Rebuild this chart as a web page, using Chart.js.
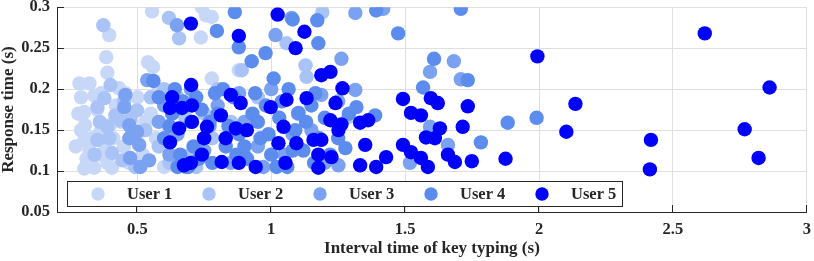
<!DOCTYPE html>
<html>
<head>
<meta charset="utf-8">
<script src="https://cdn.jsdelivr.net/npm/chart.js@4/dist/chart.umd.min.js"></script>
<style>
  html, body { margin: 0; padding: 0; background: #fff; }
  canvas { display: block; }
</style>
</head>
<body>
<canvas id="myChart" width="814" height="261"></canvas>
<script>
// series names and colours
var userNames = ['User 1', 'User 2', 'User 3', 'User 4', 'User 5'];
var userColors = ['#c6d7f7', '#a9c3f6', '#7ba2f1', '#5b8cee', '#0000ff'];

// [interval time (s), response time (s)]
var user1Points = [
  [0.395,0.266],[0.384,0.239],[0.388,0.220],[0.555,0.295],[0.741,0.300],[0.737,0.263],
  [0.756,0.290],[0.778,0.288],[0.540,0.233],[0.559,0.227],[0.879,0.223],[0.778,0.213],
  [0.284,0.207],[0.321,0.207],[0.290,0.190],[0.340,0.192],[0.302,0.172],[0.305,0.156],
  [0.302,0.138],[0.321,0.125],[0.302,0.103],[0.339,0.104],[0.388,0.110],[0.405,0.104],
  [0.432,0.201],[0.398,0.156],[0.362,0.148],[0.380,0.132],[0.280,0.170],[0.290,0.150],
  [0.310,0.115],[0.350,0.175],[0.360,0.120],[0.420,0.180],[0.440,0.160],[0.450,0.130],
  [0.470,0.110],[0.500,0.190],[0.500,0.145],[0.520,0.120],[0.550,0.170],[0.580,0.200],
  [0.600,0.105],[0.620,0.150],[0.480,0.170],[0.410,0.140],[0.330,0.140],[0.270,0.130],
  [0.365,0.195],[0.455,0.195],[0.570,0.140],[0.530,0.160]
];
var user2Points = [
  [0.373,0.278],[0.618,0.287],[0.656,0.262],[1.191,0.294],[1.057,0.256],[1.128,0.229],
  [1.132,0.215],[1.288,0.166],[0.890,0.223],[0.377,0.189],[0.351,0.178],[0.418,0.168],
  [0.388,0.154],[0.351,0.138],[0.395,0.140],[0.436,0.162],[0.473,0.162],[0.499,0.174],
  [0.481,0.148],[0.406,0.122],[0.444,0.113],[0.492,0.105],[0.550,0.190],[0.600,0.200],
  [0.650,0.190],[0.700,0.120],[0.750,0.170],[0.800,0.200],[0.850,0.160],[0.900,0.120],
  [0.580,0.130],[0.620,0.110],[0.530,0.150],[0.450,0.185],[0.400,0.205],[0.360,0.160],
  [0.340,0.120],[0.720,0.105],[0.950,0.190],[0.680,0.165],[0.780,0.140]
];
var user3Points = [
  [0.648,0.278],[1.016,0.266],[1.262,0.237],[1.314,0.293],[1.418,0.298],[1.682,0.234],
  [1.593,0.221],[1.708,0.212],[1.314,0.199],[1.187,0.193],[1.593,0.154],[1.660,0.132],
  [1.251,0.107],[1.518,0.110],[1.076,0.287],[0.455,0.193],[0.451,0.178],[0.470,0.156],
  [0.499,0.148],[0.470,0.140],[0.507,0.132],[0.473,0.116],[0.511,0.105],[0.544,0.113],
  [0.537,0.211],[0.600,0.180],[0.650,0.145],[0.700,0.200],[0.750,0.125],[0.800,0.180],
  [0.850,0.110],[0.900,0.160],[0.950,0.130],[1.000,0.200],[1.050,0.120],[1.100,0.170],
  [1.150,0.150],[1.200,0.110],[0.580,0.160],[0.620,0.120],[0.770,0.155],[0.880,0.195],
  [0.970,0.105],[1.080,0.145],[1.250,0.185],[0.680,0.105]
];
var user4Points = [
  [0.864,0.294],[0.797,0.271],[0.879,0.251],[0.979,0.244],[0.927,0.234],[1.080,0.285],
  [1.172,0.284],[1.176,0.256],[1.009,0.213],[1.392,0.296],[1.474,0.268],[1.708,0.298],
  [1.608,0.237],[1.567,0.202],[1.318,0.178],[1.388,0.168],[1.883,0.159],[1.991,0.165],
  [1.065,0.200],[1.165,0.195],[1.102,0.171],[1.783,0.135],[1.734,0.211],[1.277,0.128],
  [0.580,0.190],[0.600,0.140],[0.630,0.170],[0.660,0.120],[0.700,0.160],[0.720,0.190],
  [0.750,0.140],[0.780,0.110],[0.800,0.170],[0.830,0.130],[0.860,0.190],[0.880,0.145],
  [0.910,0.115],[0.930,0.170],[0.960,0.140],[0.980,0.180],[1.000,0.120],[1.030,0.165],
  [1.060,0.105],[1.090,0.150],[1.120,0.125],[1.150,0.180],[1.180,0.140],[1.220,0.120],
  [0.560,0.210],[0.640,0.200],[0.690,0.105],[0.740,0.175],[0.820,0.200],[0.900,0.130],
  [0.620,0.155],[0.670,0.185],[0.710,0.130],[0.770,0.160],[0.790,0.195],[0.840,0.155],
  [0.870,0.120],[0.950,0.160],[0.990,0.145],[1.040,0.185],[1.080,0.125],[1.130,0.160],
  [1.160,0.110],[1.200,0.165],[1.250,0.140],[1.290,0.170],[0.730,0.115],[0.940,0.195],
  [1.020,0.105],[0.650,0.105]
];
var user5Points = [
  [0.700,0.280],[0.879,0.265],[1.024,0.291],[1.124,0.270],[1.091,0.250],[1.221,0.221],
  [1.266,0.201],[1.240,0.183],[0.998,0.178],[1.057,0.187],[1.132,0.189],[1.492,0.188],
  [1.522,0.171],[1.559,0.168],[1.596,0.189],[1.622,0.183],[1.734,0.179],[1.994,0.240],
  [2.136,0.182],[1.221,0.162],[1.262,0.157],[1.362,0.162],[1.332,0.159],[1.046,0.154],
  [1.630,0.152],[1.715,0.154],[2.102,0.148],[1.875,0.115],[1.749,0.112],[2.619,0.268],
  [2.861,0.202],[2.768,0.151],[2.820,0.116],[2.418,0.138],[2.414,0.102],[1.251,0.150],
  [1.351,0.132],[1.187,0.138],[1.225,0.117],[1.332,0.107],[1.392,0.105],[1.429,0.117],
  [1.578,0.141],[1.611,0.140],[1.492,0.132],[1.522,0.123],[1.559,0.116],[1.585,0.105],
  [1.660,0.120],[1.686,0.111],[0.701,0.205],[0.849,0.193],[0.886,0.183],[0.704,0.180],
  [0.812,0.168],[1.187,0.217],[0.704,0.160],[0.760,0.154],[0.868,0.152],[0.909,0.150],
  [0.749,0.140],[0.830,0.140],[1.027,0.134],[1.094,0.134],[1.158,0.138],[0.741,0.120],
  [0.815,0.111],[0.879,0.110],[0.942,0.105],[1.053,0.110],[1.176,0.120],[1.176,0.104],
  [0.700,0.110],[0.630,0.190],[0.622,0.177],[0.667,0.177],[0.656,0.152],[0.622,0.135],
  [0.674,0.107]
];
var allPoints = [user1Points, user2Points, user3Points, user4Points, user5Points];

// axis ticks
var xTickValues = [0.5, 1, 1.5, 2, 2.5, 3];
var xTickLabels = ['0.5', '1', '1.5', '2', '2.5', '3'];
var yTickValues = [0.05, 0.1, 0.15, 0.2, 0.25, 0.3];
var yTickLabels = ['0.05', '0.1', '0.15', '0.2', '0.25', '0.3'];

var axisColor = '#262626';
var gridColor = '#dfdfdf';
var fontFamily = '"Liberation Serif", "Times New Roman", serif';

// inward tick marks like matlab
var tickMarks = {
    id: 'tickMarks',
    beforeDatasetsDraw: function (chart) {
        var ctx = chart.ctx, area = chart.chartArea;
        var xs = chart.scales.x, ys = chart.scales.y;
        ctx.save();
        ctx.strokeStyle = axisColor;
        ctx.lineWidth = 1;
        ctx.beginPath();
        xTickValues.forEach(function (v) {
            var px = Math.round(xs.getPixelForValue(v)) - 0.5;
            ctx.moveTo(px, area.bottom);
            ctx.lineTo(px, area.bottom - 7);
        });
        yTickValues.forEach(function (v) {
            var py = Math.round(ys.getPixelForValue(v)) + 0.5;
            ctx.moveTo(area.left, py);
            ctx.lineTo(area.left + 7, py);
        });
        ctx.stroke();
        ctx.restore();
    }
};

// legend box inside the axes, one row
var legendBox = {
    id: 'legendBox',
    afterDatasetsDraw: function (chart) {
        var ctx = chart.ctx, area = chart.chartArea;
        var left = area.left + 10, top = area.bottom - 31, w = 555, h = 25;
        ctx.save();
        ctx.fillStyle = '#ffffff';
        ctx.fillRect(left, top, w, h);
        ctx.strokeStyle = axisColor;
        ctx.lineWidth = 1;
        ctx.strokeRect(left + 0.5, top + 0.5, w, h);
        ctx.font = 'bold 16.5px ' + fontFamily;
        ctx.textBaseline = 'middle';
        ctx.textAlign = 'left';
        chart.data.datasets.forEach(function (ds, i) {
            var x0 = left + i * 111;
            ctx.fillStyle = ds.backgroundColor;
            ctx.beginPath();
            ctx.arc(x0 + 31, top + h / 2 + 0.5, 6.7, 0, Math.PI * 2);
            ctx.fill();
            ctx.fillStyle = axisColor;
            ctx.fillText(ds.label, x0 + 60, top + h / 2 + 1);
        });
        ctx.restore();
    }
};

var ctx = document.getElementById('myChart').getContext('2d');
var chart = new Chart(ctx, {
    type: 'scatter',
    data: {
        datasets: userNames.map(function (name, i) {
            return {
                label: name,
                data: allPoints[i].map(function (p) { return {x: p[0], y: p[1]}; }),
                backgroundColor: userColors[i],
                borderWidth: 0,
                pointRadius: 7.2,
                pointHoverRadius: 7.2,
                order: 5 - i
            };
        })
    },
    options: {
        responsive: false,
        animation: false,
        devicePixelRatio: 1,
        events: [],
        layout: { padding: { top: 7, right: 4, left: 0, bottom: 0 } },
        plugins: { legend: { display: false }, tooltip: { enabled: false } },
        scales: {
            x: {
                type: 'linear',
                min: 0.2,
                max: 3,
                afterBuildTicks: function (scale) {
                    scale.ticks = xTickValues.map(function (v) { return {value: v}; });
                },
                afterFit: function (scale) {
                    scale.height = 49;
                    scale.paddingLeft = 0;
                    scale.paddingRight = 0;
                },
                grid: { color: gridColor, drawTicks: false },
                border: { display: true, color: axisColor, width: 1 },
                ticks: {
                    padding: 8,
                    color: axisColor,
                    maxRotation: 0,
                    autoSkip: false,
                    font: { family: fontFamily, size: 16.5, weight: 'bold' },
                    callback: function (v, i) { return xTickLabels[i]; }
                },
                title: {
                    display: true,
                    text: 'Interval time of key typing (s)',
                    color: axisColor,
                    padding: { top: 0, bottom: 2 },
                    font: { family: fontFamily, size: 17, weight: 'bold' }
                }
            },
            y: {
                type: 'linear',
                min: 0.05,
                max: 0.3,
                afterBuildTicks: function (scale) {
                    scale.ticks = yTickValues.map(function (v) { return {value: v}; });
                },
                afterFit: function (scale) {
                    scale.width = 57;
                    scale.paddingTop = 0;
                    scale.paddingBottom = 0;
                },
                grid: { color: gridColor, drawTicks: false },
                border: { display: true, color: axisColor, width: 1 },
                ticks: {
                    padding: 7,
                    color: axisColor,
                    autoSkip: false,
                    font: { family: fontFamily, size: 16.5, weight: 'bold' },
                    callback: function (v, i) { return yTickLabels[i]; }
                },
                title: {
                    display: true,
                    text: 'Response time (s)',
                    color: axisColor,
                    padding: 0,
                    font: { family: fontFamily, size: 17, weight: 'bold', lineHeight: 1 }
                }
            }
        }
    },
    plugins: [tickMarks, legendBox]
});
</script>
</body>
</html>
